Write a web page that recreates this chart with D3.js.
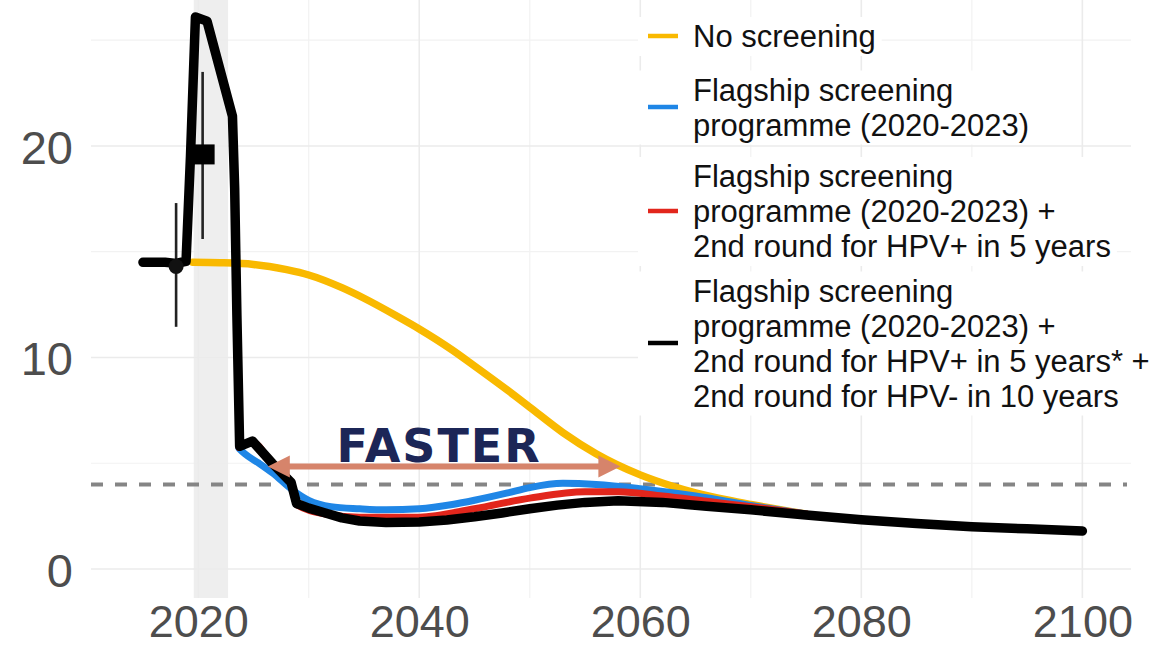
<!DOCTYPE html>
<html>
<head>
<meta charset="utf-8">
<script src="https://cdn.jsdelivr.net/npm/d3@7"></script>
<style>
  html, body { margin: 0; padding: 0; background: #fff; }
  svg { display: block; }
</style>
</head>
<body>
<svg id="chart" width="1168" height="648"></svg>
<script>
// ---------------- DATA ----------------
const xTicks = [2020, 2040, 2060, 2080, 2100];
const xMinorTicks = [2030, 2050, 2070, 2090];
const yTicks = [0, 10, 20];
const yMinorTicks = [5, 15, 25];

const noScreenYears  = [2019.5, 2022, 2025, 2028, 2030, 2033, 2035, 2038, 2040, 2043, 2045, 2048, 2050, 2053, 2056, 2060, 2063, 2065, 2068, 2070, 2075];
const noScreenValues = [14.5, 14.48, 14.4, 14.15, 13.9, 13.3, 12.8, 11.95, 11.35, 10.35, 9.6, 8.45, 7.65, 6.45, 5.45, 4.45, 3.9, 3.6, 3.25, 3.05, 2.6];

const flagYears  = [2023.7, 2024.2, 2025.5, 2026.7, 2028.5, 2030, 2032, 2034.6, 2037, 2040, 2043, 2045, 2048, 2050, 2053, 2056, 2060, 2065, 2070, 2075];
const flagValues = [5.7, 5.45, 5.0, 4.55, 3.75, 3.25, 2.95, 2.85, 2.8, 2.85, 3.05, 3.25, 3.6, 3.85, 4.05, 4.0, 3.8, 3.45, 3.0, 2.6];

const flagHpvPosYears  = [2023.7, 2024.9, 2026.7, 2028.4, 2028.9, 2031.5, 2034.6, 2040, 2045, 2050, 2055, 2058, 2062, 2066, 2070, 2075];
const flagHpvPosValues = [5.75, 6.0, 4.95, 4.05, 3.05, 2.6, 2.45, 2.45, 2.85, 3.35, 3.65, 3.65, 3.45, 3.2, 2.95, 2.6];

const flagBothYears  = [2015, 2016, 2017, 2018, 2018.9, 2019.3, 2019.75, 2020.8, 2023.1, 2023.3, 2023.5, 2023.75, 2024.9, 2026.7, 2028.4, 2028.9, 2030, 2031.5, 2033, 2034.6, 2037, 2040, 2042.5, 2045, 2047.5, 2050, 2052.5, 2055, 2058, 2062, 2066, 2070, 2075, 2080, 2085, 2090, 2095, 2100];
const flagBothValues = [14.5, 14.5, 14.5, 14.45, 14.55, 19.5, 26.1, 25.9, 21.4, 18.0, 12.0, 5.8, 6.05, 5.0, 4.1, 3.1, 2.88, 2.65, 2.42, 2.27, 2.2, 2.22, 2.32, 2.47, 2.65, 2.85, 3.02, 3.15, 3.23, 3.15, 2.97, 2.8, 2.55, 2.33, 2.15, 2.0, 1.9, 1.8];

const obsYears  = [2018, 2020.4];
const obsValues = [14.3, 19.6];
const obsLow    = [11.45, 15.6];
const obsHigh   = [17.3, 23.5];

const targetValue = 4;
const shadeStart = 2019.6, shadeEnd = 2022.7;
const arrowFrom = 2026.3, arrowTo = 2058.2, arrowLevel = 4.85;
const annotationText = "FASTER";

const seriesLabels = [
  ["No screening"],
  ["Flagship screening", "programme (2020-2023)"],
  ["Flagship screening", "programme (2020-2023) +", "2nd round for HPV+ in 5 years"],
  ["Flagship screening", "programme (2020-2023) +", "2nd round for HPV+ in 5 years* +", "2nd round for HPV- in 10 years"]
];
const seriesColors = ["#f9b900", "#1f86e6", "#e2261c", "#000000"];

// ---------------- CHART ----------------
const svg = d3.select("#chart");
const panel = { left: 91, right: 1131, top: 0, bottom: 598 };

const x = d3.scaleLinear().domain([2010.3, 2104.4]).range([panel.left, panel.right]);
const y = d3.scaleLinear().domain([-1.37, 26.9]).range([panel.bottom, panel.top]);

// gridlines
const g = svg.append("g");
g.selectAll(".vminor").data(xMinorTicks).join("line")
  .attr("x1", d => x(d)).attr("x2", d => x(d))
  .attr("y1", panel.top).attr("y2", panel.bottom)
  .attr("stroke", "#f2f2f2").attr("stroke-width", 1.2);
g.selectAll(".hminor").data(yMinorTicks).join("line")
  .attr("x1", panel.left).attr("x2", panel.right)
  .attr("y1", d => y(d)).attr("y2", d => y(d))
  .attr("stroke", "#f2f2f2").attr("stroke-width", 1.2);
g.selectAll(".vmajor").data(xTicks).join("line")
  .attr("x1", d => x(d)).attr("x2", d => x(d))
  .attr("y1", panel.top).attr("y2", panel.bottom)
  .attr("stroke", "#ebebeb").attr("stroke-width", 1.6);
g.selectAll(".hmajor").data(yTicks).join("line")
  .attr("x1", panel.left).attr("x2", panel.right)
  .attr("y1", d => y(d)).attr("y2", d => y(d))
  .attr("stroke", "#ebebeb").attr("stroke-width", 1.6);

// shaded band
svg.append("rect")
  .attr("x", x(shadeStart)).attr("width", x(shadeEnd) - x(shadeStart))
  .attr("y", panel.top).attr("height", panel.bottom - panel.top)
  .attr("fill", "#ebebeb").attr("opacity", 0.85);

// axes (text only, ggplot minimal style)
const xAxis = d3.axisBottom(x).tickValues(xTicks).tickFormat(d3.format("d")).tickSize(0).tickPadding(0);
const xg = svg.append("g").attr("transform", `translate(0,${panel.bottom})`).call(xAxis);
xg.select(".domain").remove();
xg.selectAll("text")
  .attr("y", 39).attr("dy", null)
  .attr("font-family", "Liberation Sans, Arial, sans-serif")
  .attr("font-size", 45).attr("fill", "#4d4d4d");

const yAxis = d3.axisLeft(y).tickValues(yTicks).tickFormat(d3.format("d")).tickSize(0).tickPadding(0);
const yg = svg.append("g").attr("transform", `translate(73,0)`).call(yAxis);
yg.select(".domain").remove();
yg.selectAll("text")
  .attr("x", 0).attr("dy", "0.37em")
  .attr("font-family", "Liberation Sans, Arial, sans-serif")
  .attr("font-size", 47).attr("fill", "#4d4d4d");

// target dashed line
svg.append("line")
  .attr("x1", panel.left).attr("x2", panel.right - 4)
  .attr("y1", y(targetValue)).attr("y2", y(targetValue))
  .attr("stroke", "#858585").attr("stroke-width", 4)
  .attr("stroke-dasharray", "12,12");

// error bars
svg.selectAll(".err").data(obsYears).join("line")
  .attr("x1", d => x(d)).attr("x2", d => x(d))
  .attr("y1", (d, i) => y(obsLow[i])).attr("y2", (d, i) => y(obsHigh[i]))
  .attr("stroke", "#222").attr("stroke-width", 2.6);

// series lines
const smooth = d3.line().x(d => x(d[0])).y(d => y(d[1])).curve(d3.curveMonotoneX);
const straight = d3.line().x(d => x(d[0])).y(d => y(d[1])).curve(d3.curveLinear);
const series = [
  { years: noScreenYears, values: noScreenValues, color: seriesColors[0], w: 7.5, gen: smooth },
  { years: flagYears, values: flagValues, color: seriesColors[1], w: 7, gen: smooth },
  { years: flagHpvPosYears, values: flagHpvPosValues, color: seriesColors[2], w: 7, gen: smooth },
  { years: flagBothYears, values: flagBothValues, color: seriesColors[3], w: 9.5, gen: straight }
];
series.forEach(s => {
  svg.append("path")
    .datum(s.years.map((yr, i) => [yr, s.values[i]]))
    .attr("d", s.gen)
    .attr("fill", "none")
    .attr("stroke", s.color)
    .attr("stroke-width", s.w)
    .attr("stroke-linejoin", "round")
    .attr("stroke-linecap", "round");
});

// observed points
svg.append("circle")
  .attr("cx", x(obsYears[0])).attr("cy", y(obsValues[0])).attr("r", 7.5)
  .attr("fill", "#111");
svg.append("rect")
  .attr("x", x(obsYears[1]) - 12).attr("y", y(obsValues[1]) - 10)
  .attr("width", 24).attr("height", 20)
  .attr("fill", "#000");

// annotation arrow
const arrowColor = "#d6846b";
const ay = y(arrowLevel);
const ax1 = x(arrowFrom), ax2 = x(arrowTo);
const headL = 22, headW = 11;
svg.append("line")
  .attr("x1", ax1 + headL - 2).attr("x2", ax2 - headL + 2)
  .attr("y1", ay).attr("y2", ay)
  .attr("stroke", arrowColor).attr("stroke-width", 6);
svg.append("path")
  .attr("d", `M${ax1},${ay} L${ax1 + headL},${ay - headW} L${ax1 + headL},${ay + headW} Z`)
  .attr("fill", arrowColor);
svg.append("path")
  .attr("d", `M${ax2},${ay} L${ax2 - headL},${ay - headW} L${ax2 - headL},${ay + headW} Z`)
  .attr("fill", arrowColor);
svg.append("text")
  .attr("x", (ax1 + ax2) / 2 - 5).attr("y", ay - 4)
  .attr("text-anchor", "middle")
  .attr("font-family", "DejaVu Sans, sans-serif")
  .attr("font-weight", "bold")
  .attr("font-size", 46)
  .attr("letter-spacing", 2)
  .attr("fill", "#1c2657")
  .text(annotationText);

// legend
const legendKeyCenters = [36, 107, 211, 343];
const lineH = 35;
const leg = svg.append("g");
seriesLabels.forEach((lines, i) => {
  const cy = legendKeyCenters[i];
  const grp = leg.append("g");
  const bg = grp.append("rect").attr("fill", "#fff");
  grp.append("line")
    .attr("x1", 648).attr("x2", 678)
    .attr("y1", cy).attr("y2", cy)
    .attr("stroke", seriesColors[i]).attr("stroke-width", 4.5);
  const t = grp.append("text")
    .attr("font-family", "Liberation Sans, Arial, sans-serif")
    .attr("font-size", 31)
    .attr("fill", "#111");
  const n = lines.length;
  lines.forEach((ln, j) => {
    t.append("tspan")
      .attr("x", 693)
      .attr("y", cy + (j - (n - 1) / 2) * lineH + 11)
      .text(ln);
  });
  const bb = t.node().getBBox();
  bg.attr("x", 638).attr("y", bb.y - 2)
    .attr("width", bb.x + bb.width - 638 + 6).attr("height", bb.height + 4);
});
</script>
</body>
</html>
